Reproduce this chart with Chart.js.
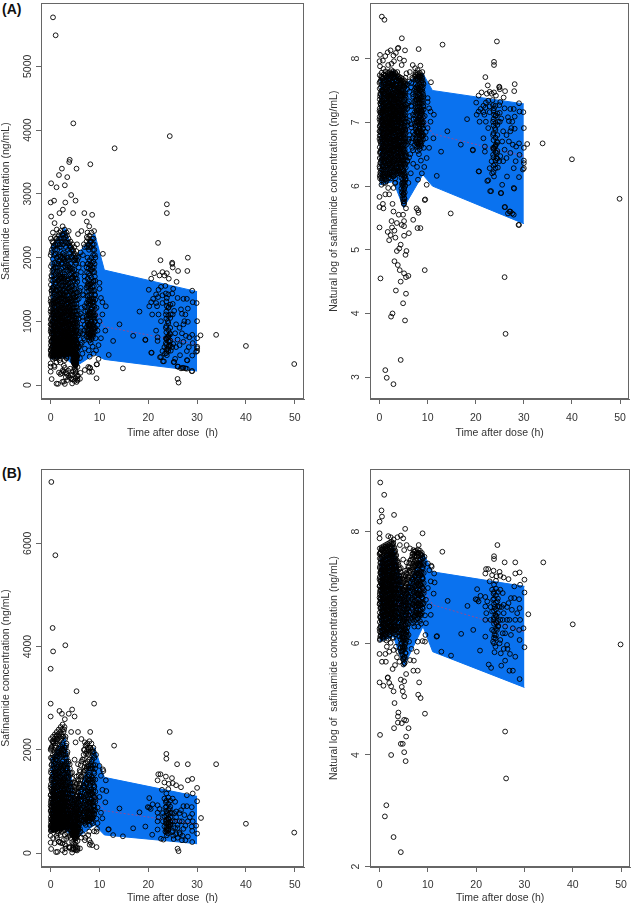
<!DOCTYPE html>
<html>
<head>
<meta charset="utf-8">
<script src="https://cdn.jsdelivr.net/npm/chart.js@4.4.0/dist/chart.umd.min.js"></script>
<style>
    body { margin: 0; background: #fff; width: 634px; height: 905px; position: relative; overflow: hidden; font-family: "Liberation Sans", Arial, sans-serif; }
    canvas { position: absolute; }
    .tag { position: absolute; font-weight: bold; font-size: 14px; color: #111; }
</style>
</head>
<body>
<div class="tag" style="left:2px;top:1px">(A)</div>
<div class="tag" style="left:2px;top:465px">(B)</div>
<canvas id="aLin" width="317" height="450" style="left:0;top:0"></canvas>
<canvas id="aLog" width="317" height="450" style="left:317px;top:0"></canvas>
<canvas id="bLin" width="317" height="455" style="left:0;top:450px"></canvas>
<canvas id="bLog" width="317" height="455" style="left:317px;top:450px"></canvas>
<script>
// tick labels
const timeTicks = [0, 10, 20, 30, 40, 50];
const linTicksA = [0, 1000, 2000, 3000, 4000, 5000];
const logTicksA = [3, 4, 5, 6, 7, 8];
const linTicksB = [0, 2000, 4000, 6000];
const logTicksB = [2, 4, 6, 8];

// prediction band nodes (h)
const bandTime = [0, 2.9, 5, 9, 11, 30];
// study A, ng/mL
const bandUpperLinA = [2157, 2469, 2001, 2380, 1804, 1466];
const bandLowerLinA = [410, 432, 288, 482, 403, 220];
const medianLinA = [1100, 1200, 900, 1200, 916, 640];
// study A, natural log
const bandUpperLogA = [7.66, 7.81, 7.60, 7.77, 7.50, 7.29];
const bandLowerLogA = [6.02, 6.07, 5.66, 6.18, 6.00, 5.41];
const medianLogA = [7.0, 7.1, 6.8, 7.1, 6.82, 6.47];
// study B, ng/mL
const bandUpperLinB = [1800, 2250, 990, 2040, 1465, 1097];
const bandLowerLinB = [415, 455, 265, 545, 350, 180];
const medianLinB = [1000, 1200, 550, 1100, 820, 560];
// study B, natural log
const bandUpperLogB = [7.5, 7.72, 6.9, 7.62, 7.28, 7.02];
const bandLowerLogB = [6.03, 6.12, 5.58, 6.30, 5.85, 5.21];
const medianLogB = [6.9, 7.1, 6.3, 7.0, 6.69, 6.21];

// observations [time (h), ln concentration]
const obsA = [
    [0.48,8.66],[1.02,8.61],[4.64,8.32],[13.1,8.22],[24.4,8.27],[8.13,8.15],[3.9,8.17],[23.8,7.95],[23.8,7.90],[22.0,7.71],
    [28.1,7.60],[28.0,7.49],[26.1,7.49],[24.9,7.56],[25.0,7.52],[33.9,6.67],[40.0,6.42],[49.9,5.80],[30.7,6.66],[14.8,5.57],
    [16.9,6.65],[19.4,6.56],[12.8,6.54],[11.9,6.16],[14.1,6.86],[10.7,7.63],[20.7,6.23],[26.0,4.57],[26.2,3.68],[28.9,5.39],
    [27.9,5.55],[27.0,5.60],[26.1,5.67],[28.0,5.96],[25.3,5.89],[23.0,5.92],
    [9.4,4.68],[9.4,5.78],[7.7,5.65],[8.0,5.62],[8.1,5.58],[8.5,5.34],[7.9,5.34],[6.1,5.26],[7.0,5.47],[4.9,5.55],
    [5.1,5.45],[5.1,5.37],[5.1,5.22],[5.5,5.65],[5.1,5.76],
    [0.0,5.35],[0.0,5.67],[0.0,5.83],[0.2,4.55],[0.7,5.72],[0.8,5.65],[1.2,5.87],[1.7,5.28],[2.0,5.15],[2.3,5.23],
    [2.5,5.45],[2.6,5.35],[2.7,5.72],[2.9,5.60],[3.1,5.30],[3.3,5.19],[3.1,4.82],[3.8,4.76],[3.6,4.98],[4.1,5.02],
    [4.2,4.68],[4.4,5.08],[3.4,4.36],[2.4,3.95],[2.7,4.0],[4.4,4.50],[4.9,4.16],[5.3,3.89],[5.5,4.31],[5.1,4.63],
    [5.5,4.57],[6.0,4.59],[5.4,4.92],[5.6,4.98],[4.4,3.27],[1.2,3.11],[1.5,2.99],[2.9,2.89],[4.6,5.39],[4.0,5.55],
    [2.9,5.97],[1.8,5.97],[3.3,6.05],[2.0,5.87],[1.2,6.05],[3.6,5.42],
    [0.1,8.06],[0.7,7.97],[1.2,8.04],[1.7,8.10],[2.3,8.13],[2.9,8.05],[3.4,8.09],[3.8,8.16],[4.2,8.0],[5.1,7.97],
    [5.3,8.13],[6.9,7.90],[7.4,7.85],[7.9,7.82],[8.9,7.79],[8.5,7.89],[0.0,7.96],[0.1,7.88],[0.8,7.84],[1.8,7.90],
    [2.5,7.92],[3.0,7.96],[4.6,7.90],[5.6,7.77],[6.3,7.79],
    [0.0,7.62],[0.1,7.41],[0.0,7.18],[0.1,6.95],[0.0,6.74],[0.1,6.52],[0.0,6.31],[0.1,6.12],[0.0,7.05],[0.0,6.86],
    [0.3,7.55],[0.4,7.33],[0.3,7.12],[0.4,6.88],[0.3,6.66],[0.4,6.45],[0.3,6.24],[0.5,7.71],[0.5,7.02],[0.6,6.58],
    [0.7,7.48],[0.8,7.26],[0.7,7.05],[0.8,6.83],[0.7,6.61],[0.8,6.38],[0.7,6.15],[0.9,7.66],[0.9,6.95],[1.0,6.72],
    [1.1,7.52],[1.2,7.30],[1.1,7.10],[1.2,6.90],[1.1,6.68],[1.2,6.47],[1.1,6.26],[1.3,7.74],[1.3,7.19],[1.4,6.55],
    [1.5,7.61],[1.6,7.40],[1.5,7.20],[1.6,6.98],[1.5,6.77],[1.6,6.56],[1.5,6.33],[1.7,7.08],[1.7,6.85],[1.8,6.12],
    [1.9,7.70],[2.0,7.47],[1.9,7.27],[2.0,7.06],[1.9,6.85],[2.0,6.63],[1.9,6.42],[2.1,6.22],[2.1,7.15],[2.2,6.92],
    [2.3,7.56],[2.4,7.35],[2.3,7.13],[2.4,6.91],[2.3,6.70],[2.4,6.49],[2.3,6.28],[2.5,7.76],[2.5,7.00],[2.6,6.60],
    [2.7,7.64],[2.8,7.42],[2.7,7.21],[2.8,6.99],[2.7,6.78],[2.8,6.56],[2.7,6.35],[2.9,6.15],[2.9,7.30],[3.0,6.88],
    [3.1,7.71],[3.2,7.50],[3.1,7.28],[3.2,7.06],[3.1,6.84],[3.2,6.63],[3.1,6.42],[3.3,6.22],[3.3,7.15],[3.4,6.72],
    [3.5,7.60],[3.6,7.38],[3.5,7.17],[3.6,6.95],[3.5,6.73],[3.6,6.52],[3.5,6.30],[3.7,7.79],[3.7,7.05],[3.8,6.62],
    [3.9,7.52],[4.0,7.30],[3.9,7.09],[4.0,6.87],[3.9,6.66],[4.0,6.44],[4.1,6.23],[4.1,7.68],[4.2,7.20],[4.2,6.78],
    [4.3,7.42],[4.4,7.00],[4.3,6.55],[4.4,6.34],[4.4,7.60],
    [0.2,7.30],[0.6,7.15],[1.0,7.38],[1.4,6.95],[1.8,7.32],[2.2,7.42],[2.6,7.25],[3.0,7.12],[3.4,7.40],[3.8,7.10],
    [0.2,6.80],[0.6,6.70],[1.0,6.55],[1.4,6.80],[1.8,6.60],[2.2,6.75],[2.6,6.90],[3.0,6.50],[3.4,6.90],[3.8,6.85],
    [4.2,6.60],[0.9,6.30],[2.0,6.35],[3.2,6.05],[0.4,6.02],
    [4.6,7.65],[4.8,7.45],[4.7,7.25],[4.9,7.05],[4.7,6.85],[4.9,6.65],[4.8,6.45],[5.0,6.25],[4.9,6.05],[5.0,5.88],
    [5.1,5.72],[5.2,7.55],[5.1,7.35],[5.3,7.15],[5.2,6.95],[5.3,6.75],[5.1,6.55],[5.3,6.35],[5.2,6.15],[5.1,5.95],
    [5.4,7.70],[5.5,7.28],[5.4,6.88],[5.5,6.48],[5.4,6.10],[4.6,7.00],[4.6,6.40],[5.0,7.58],[5.0,6.80],[5.2,5.80],
    [5.7,7.60],[5.9,7.30],[5.8,7.00],[6.0,6.70],[5.8,6.40],[6.2,7.48],[6.3,7.10],[6.2,6.80],[6.4,6.50],[6.6,7.62],
    [6.7,7.25],[6.6,6.92],[6.8,6.60],[6.5,6.20],[7.0,7.40],[7.1,7.05],[6.9,6.75],[7.0,6.35],[6.0,6.05],[6.8,7.70],
    [7.4,7.75],[7.6,7.55],[7.5,7.35],[7.7,7.15],[7.5,6.95],[7.7,6.75],[7.9,7.68],[8.0,7.45],[7.9,7.25],[8.1,7.05],
    [7.9,6.85],[8.1,6.65],[8.3,7.72],[8.4,7.50],[8.3,7.30],[8.5,7.10],[8.3,6.90],[8.5,6.70],[8.7,7.62],[8.8,7.40],
    [8.7,7.18],[8.9,6.98],[8.7,6.78],[9.0,7.55],[9.1,7.25],[9.0,6.90],[8.2,6.50],[8.6,6.40],[9.2,6.60],[7.8,6.30],
    [9.4,7.10],[9.6,6.85],[8.0,6.10],[8.8,6.20],[9.3,6.30],
    [10.0,7.32],[10.3,7.22],[10.6,7.17],[11.3,7.12],[10.6,7.01],[10.0,6.91],[9.6,6.75],[10.3,6.60],[9.8,6.44],[11.2,6.75],
    [9.8,6.02],[9.5,5.79],[10.0,7.38],
    [22.5,7.58],[24.9,7.55],[22.9,7.48],[23.3,7.45],[23.8,7.47],[24.2,7.42],[22.3,7.45],[21.2,7.47],[20.6,7.42],[25.8,7.39],
    [25.1,7.32],[20.1,7.31],[29.0,7.30],[29.9,7.16],[30.0,6.91],[18.2,7.05],[19.4,6.57],[20.6,6.23],[21.9,6.62],[21.9,6.54],
    [20.6,7.17],[22.0,7.23],[21.6,7.16],[20.2,7.12],[20.8,7.01],[22.1,7.01],[22.6,6.91],[21.6,6.75],[22.4,6.08],[22.6,6.09],
    [23.2,5.92],[23.4,6.20],[24.0,6.34],[23.8,6.15],[23.6,6.49],[23.8,6.60],[24.2,6.65],[24.4,6.70],[23.6,6.80],[24.0,6.91],
    [23.6,7.01],[23.8,7.12],[23.8,7.22],[23.6,7.27],[23.5,7.35],[25.0,7.01],[25.3,7.06],[25.7,6.86],[25.5,6.70],[26.0,6.57],
    [25.1,6.47],[25.7,6.39],[26.4,6.44],[27.2,6.52],[26.9,6.70],[27.7,6.65],[28.4,6.62],[29.0,6.67],[29.1,6.49],[28.3,6.39],
    [27.9,6.28],[29.0,6.14],[29.8,6.26],[30.0,6.36],[27.9,5.97],[26.5,6.15],[25.5,6.02],[25.2,5.89],[26.0,5.67],[26.7,5.57],
    [27.6,5.57],[27.2,5.60],[29.0,5.39],[27.4,6.91],[28.1,6.90],[27.6,7.01],[26.9,7.02],[28.1,7.09],[29.1,7.17],[30.0,6.60],
    [30.0,6.40],[30.0,6.28],[24.9,6.39],[24.3,6.44],[23.3,6.39],[22.9,6.28],[24.6,6.29],[24.9,7.27],[26.0,7.22],[27.2,7.21],
    [27.9,7.21],[26.7,7.08],[25.0,7.15],[26.4,6.80],[27.2,6.86],[24.4,6.52],[23.6,6.60],[24.0,6.62],[24.6,7.01],[24.2,7.11],
    [21.8,7.12],[22.9,7.16],[21.6,7.26],[21.0,7.21],[22.1,7.31],[22.9,7.25],[22.6,7.34]
];

// densely sampled columns of study A [time (h), ln concentrations]
const denseA = [
    [0.05, [7.74,7.53,7.36,7.22,7.09,6.93,6.79,6.61,6.44,6.28,6.16]],
    [0.15, [7.64,7.45,7.30,7.15,7.01,6.86,6.70,6.54,6.36,6.21]],
    [0.25, [7.66,7.44,7.27,7.15,6.97,6.84,6.70,6.53,6.37,6.19]],
    [0.35, [7.72,7.49,7.33,7.18,7.04,6.90,6.74,6.56,6.40,6.14]],
    [0.45, [7.78,7.59,7.40,7.24,7.08,6.92,6.76,6.59,6.41,6.26,6.09]],
    [0.55, [7.68,7.50,7.31,7.16,7.00,6.83,6.67,6.48,6.33,6.12]],
    [0.65, [7.69,7.51,7.34,7.19,7.03,6.89,6.72,6.50,6.31,6.18]],
    [0.75, [7.62,7.45,7.28,7.12,6.95,6.80,6.62,6.43,6.26]],
    [0.85, [7.75,7.56,7.41,7.21,7.11,6.97,6.80,6.64,6.46,6.22,6.05]],
    [0.95, [7.70,7.52,7.36,7.17,7.04,6.90,6.76,6.55,6.38,6.17]],
    [1.05, [7.63,7.46,7.31,7.17,7.00,6.86,6.73,6.58,6.40,6.13]],
    [1.15, [7.74,7.55,7.38,7.22,7.05,6.91,6.78,6.60,6.44,6.30,6.10]],
    [1.25, [7.80,7.60,7.43,7.25,7.07,6.94,6.77,6.62,6.36,6.20]],
    [1.35, [7.66,7.48,7.30,7.14,6.99,6.84,6.66,6.47,6.32,6.15]],
    [1.45, [7.70,7.52,7.34,7.18,7.03,6.88,6.69,6.51,6.42,6.24,6.08]],
    [1.55, [7.72,7.55,7.40,7.23,7.08,6.92,6.75,6.59,6.38,6.19]],
    [1.65, [7.76,7.57,7.45,7.26,7.12,6.96,6.82,6.65,6.47,6.29]],
    [1.75, [7.78,7.62,7.42,7.31,7.15,7.00,6.86,6.70,6.52,6.35,6.16]],
    [1.85, [7.68,7.49,7.37,7.21,7.05,6.91,6.74,6.57,6.39,6.19]],
    [1.95, [7.74,7.58,7.44,7.25,7.10,6.95,6.78,6.62,6.45,6.27]],
    [2.05, [7.79,7.61,7.42,7.28,7.13,6.98,6.81,6.67,6.50,6.33,6.14]],
    [2.15, [7.68,7.51,7.35,7.18,7.01,6.85,6.69,6.52,6.36,6.20]],
    [2.25, [7.72,7.55,7.39,7.22,7.06,6.89,6.73,6.56,6.41,6.25]],
    [2.35, [7.77,7.60,7.44,7.26,7.10,6.96,6.80,6.64,6.47,6.30,6.12]],
    [2.45, [7.82,7.63,7.47,7.30,7.16,7.02,6.85,6.68,6.52,6.37,6.18]],
    [2.55, [7.70,7.52,7.36,7.21,7.05,6.88,6.73,6.57,6.40,6.22]],
    [2.65, [7.74,7.58,7.41,7.27,7.09,6.94,6.79,6.61,6.45,6.29]],
    [2.75, [7.77,7.59,7.44,7.24,7.13,6.98,6.83,6.66,6.49,6.32,6.16]],
    [2.85, [7.80,7.62,7.46,7.32,7.18,7.03,6.87,6.70,6.54,6.38,6.21]],
    [2.95, [7.72,7.53,7.35,7.20,7.06,6.90,6.73,6.56,6.38,6.24]],
    [3.05, [7.75,7.57,7.39,7.24,7.10,6.93,6.77,6.60,6.43,6.27]],
    [3.15, [7.68,7.52,7.35,7.19,7.02,6.88,6.71,6.55,6.39,6.17]],
    [3.25, [7.78,7.60,7.44,7.29,7.14,6.99,6.82,6.66,6.48,6.33,6.12]],
    [3.35, [7.76,7.58,7.41,7.25,7.09,6.94,6.78,6.61,6.44,6.29]],
    [3.45, [7.71,7.54,7.36,7.20,7.05,6.90,6.74,6.58,6.40,6.24]],
    [3.55, [7.66,7.49,7.32,7.16,7.00,6.85,6.68,6.52,6.35,6.19]],
    [3.65, [7.74,7.58,7.42,7.25,7.11,6.95,6.79,6.63,6.46,6.28]],
    [3.75, [7.71,7.53,7.37,7.21,7.06,6.90,6.75,6.59,6.42,6.24]],
    [3.85, [7.69,7.50,7.33,7.18,7.02,6.86,6.71,6.55,6.37,6.20]],
    [3.95, [7.64,7.46,7.29,7.13,6.97,6.81,6.64,6.47,6.30]],
    [4.05, [7.72,7.55,7.38,7.22,7.07,6.91,6.75,6.57,6.41,6.25]],
    [4.15, [7.68,7.51,7.34,7.18,7.02,6.86,6.71,6.53,6.37,6.21]],
    [4.25, [7.66,7.47,7.31,7.16,6.99,6.83,6.68,6.50,6.33]],
    [4.35, [7.61,7.43,7.27,7.11,6.94,6.79,6.62,6.45,6.28]],
    [4.45, [7.70,7.51,7.35,7.19,7.03,6.87,6.70,6.52,6.36,6.18]],
    [4.55, [7.66,7.48,7.30,7.14,6.98,6.82,6.64,6.47,6.30,6.13,5.96]],
    [4.65, [7.62,7.43,7.26,7.10,6.93,6.76,6.58,6.41,6.22,6.04,5.90]],
    [4.75, [7.58,7.40,7.22,7.05,6.88,6.71,6.54,6.36,6.18,6.01,5.85]],
    [4.85, [7.68,7.50,7.32,7.14,6.97,6.80,6.62,6.45,6.27,6.10,5.93,5.80]],
    [4.95, [7.63,7.46,7.27,7.10,6.92,6.75,6.58,6.40,6.23,6.06,5.88,5.76]],
    [5.05, [7.60,7.42,7.23,7.06,6.88,6.71,6.53,6.36,6.19,6.02,5.86,5.72]],
    [5.15, [7.56,7.37,7.19,7.01,6.84,6.66,6.49,6.31,6.14,5.97,5.81]],
    [5.25, [7.65,7.46,7.28,7.11,6.92,6.74,6.57,6.40,6.21,6.06,5.90]],
    [5.35, [7.61,7.42,7.24,7.06,6.88,6.70,6.52,6.34,6.17,6.00]],
    [5.45, [7.58,7.39,7.20,7.01,6.83,6.64,6.46,6.29,6.12]],
    [5.75, [7.52,7.21,6.95,6.66,6.38]],
    [6.15, [7.64,7.33,7.02,6.74,6.45]],
    [6.55, [7.55,7.26,6.97,6.69]],
    [6.95, [7.68,7.44,7.12,6.85,6.56]],
    [7.35, [7.72,7.52,7.33,7.16,6.98,6.81,6.64]],
    [7.45, [7.68,7.48,7.29,7.11,6.93,6.76]],
    [7.55, [7.78,7.60,7.42,7.24,7.06,6.89,6.72]],
    [7.65, [7.74,7.55,7.37,7.20,7.02,6.85,6.69]],
    [7.75, [7.70,7.51,7.35,7.18,7.00,6.84,6.67]],
    [7.85, [7.66,7.47,7.30,7.13,6.95,6.79,6.62]],
    [7.95, [7.76,7.58,7.40,7.22,7.04,6.87,6.70,6.55]],
    [8.05, [7.72,7.54,7.36,7.18,7.00,6.83,6.66]],
    [8.15, [7.72,7.54,7.37,7.19,7.02,6.85,6.68]],
    [8.25, [7.68,7.50,7.32,7.14,6.97,6.80,6.62]],
    [8.35, [7.78,7.60,7.43,7.25,7.08,6.91,6.74,6.58]],
    [8.45, [7.74,7.56,7.38,7.21,7.04,6.87,6.70]],
    [8.55, [7.70,7.52,7.34,7.17,7.00,6.83,6.66]],
    [8.65, [7.66,7.48,7.30,7.13,6.96,6.79,6.63]],
    [8.75, [7.74,7.57,7.39,7.21,7.04,6.86,6.69]],
    [8.85, [7.70,7.52,7.35,7.17,7.00,6.82]],
    [8.95, [7.66,7.48,7.30,7.12,6.95,6.78]],
    [9.05, [7.62,7.44,7.26,7.08,6.90,6.73]],
    [9.15, [7.60,7.40,7.20,7.00,6.80]],
    [23.7, [7.18,7.05,6.95,6.83,6.72,6.58,6.45,6.32,6.22]],
    [24.1, [7.26,7.10,6.99,6.88,6.76,6.63,6.53,6.40,6.28]],
    [24.5, [7.14,6.96,6.80,6.68,6.55,6.43]]
];

const obsB = [
    [0.14,8.88],[0.96,8.66],[0.4,8.38],[0.5,8.27],[3.0,8.30],[0.0,8.18],[0.0,7.97],[0.0,7.88],[5.3,8.05],[8.9,7.97],
    [4.4,7.93],[4.9,7.88],[13.0,7.64],[24.4,7.76],[23.7,7.56],[23.7,7.51],[28.1,7.45],[25.9,7.45],[33.9,7.45],[40.0,6.34],
    [49.9,5.98],[30.8,6.52],[26.0,4.42],[26.2,3.58],[0.1,4.36],[0.0,5.30],[0.0,5.81],[0.8,5.24],[1.7,5.38],[1.3,5.67],
    [0.5,5.67],[2.4,4.0],[1.4,3.10],[1.1,2.90],[2.9,2.53],[4.4,2.26],[5.1,4.05],[5.4,3.89],[4.4,4.20],[4.8,4.20],
    [3.0,4.48],[3.8,4.58],[4.6,4.57],[5.1,4.63],[5.5,4.62],[6.0,4.48],[5.5,4.33],[3.1,4.93],[3.9,4.76],[3.8,4.69],
    [2.9,5.14],[4.8,5.14],[5.1,5.05],[4.6,5.22],[4.4,5.35],[5.1,5.32],[5.5,5.45],[2.7,5.54],[2.4,5.23],[2.0,5.29],
    [1.7,5.39],[9.4,4.74],[8.0,5.08],[8.5,5.02],[8.2,5.30],[7.9,5.51],[7.0,5.51],[7.1,5.69],[6.3,5.70],[7.7,5.85],
    [7.9,6.03],[8.9,6.04],[9.4,6.03],[6.6,5.90],[6.1,6.03],[2.0,5.85],[1.5,5.94],[1.2,5.81],[2.3,6.01],[2.9,5.88],
    [3.4,5.94],[3.6,5.75],[3.9,5.85],[4.1,5.67],[3.2,5.61],[5.7,6.12],[11.9,6.13],[12.8,5.85],[14.8,5.78],[14.1,6.76],
    [18.2,6.67],[19.4,6.24],[20.8,5.87],[10.7,7.39],[11.4,7.09],
    [1.8,7.92],[2.3,7.90],[2.9,7.86],[3.7,7.90],[4.2,7.76],[5.6,7.76],[5.1,7.67],[6.3,7.70],[7.0,7.67],[8.1,7.76],
    [7.7,7.56],[0.5,7.67],[0.1,7.61],[1.2,7.73],
    [22.05,7.33],[22.5,7.33],[21.9,7.25],[23.6,7.30],[23.3,7.22],[24.85,7.28],[25.0,7.21],[25.7,7.18],[26.7,7.15],[28.1,7.25],
    [29.0,7.27],[30.0,7.14],[24.2,7.20],[22.8,7.11],[29.1,7.05],[27.9,7.02],[30.0,6.91],[20.2,6.78],[20.5,6.75],[19.9,6.79],
    [21.9,6.83],[21.9,6.66],[22.3,6.75],[23.3,6.96],[23.6,6.89],[23.5,6.78],[23.8,6.65],[23.3,6.57],[24.0,6.51],[23.6,6.42],
    [24.2,6.36],[23.3,6.24],[23.8,6.15],[23.5,6.03],[24.0,5.94],[23.8,5.84],[25.0,6.96],[25.5,6.90],[25.3,6.65],[25.7,6.54],
    [25.0,6.42],[26.0,6.30],[25.5,6.18],[25.0,6.06],[26.4,5.97],[25.1,5.82],[26.7,6.72],[27.4,6.60],[26.9,6.42],[27.6,6.27],
    [27.2,6.15],[28.1,6.42],[28.5,6.54],[29.0,6.63],[29.1,6.42],[28.9,6.24],[29.8,6.27],[30.0,5.93],[29.0,6.06],[28.1,5.76],
    [27.0,5.81],[26.0,5.69],[25.2,5.60],[26.9,5.51],[27.6,5.51],[29.0,5.36],[22.6,5.62],[23.1,5.56],[16.9,6.17],[21.9,6.12],
    [21.9,6.42],[22.1,6.54],[20.2,6.97],[20.9,6.85],[27.9,6.81],[27.2,6.81],[28.9,6.79],[24.4,6.75],[24.85,6.65],[25.7,6.69],
    [26.4,6.65],[23.0,6.65],[24.2,6.48],[24.6,6.31],[26.0,6.18],[25.5,6.42],[26.4,6.42],[24.0,6.09],[24.85,6.00],[25.7,5.90],
    [26.5,5.90],[24.3,6.24],[23.0,6.42],
    [9.3,7.55],[10.0,7.43],[10.3,7.31],[11.3,7.25],[10.6,7.11],[10.0,6.99],[11.2,6.89],[9.6,6.78],[10.3,6.66],[10.6,6.51],
    [9.6,6.36],[9.5,6.15],[11.8,6.12],[10.8,7.37],
    [0.0,7.60],[0.1,7.38],[0.0,7.15],[0.1,6.92],[0.0,6.70],[0.1,6.48],[0.0,6.26],[0.1,6.08],[0.0,7.02],[0.0,6.82],
    [0.3,7.52],[0.4,7.30],[0.3,7.08],[0.4,6.86],[0.3,6.64],[0.4,6.42],[0.3,6.20],[0.5,7.68],[0.5,6.98],[0.6,6.55],
    [0.7,7.45],[0.8,7.23],[0.7,7.01],[0.8,6.79],[0.7,6.57],[0.8,6.35],[0.7,6.12],[0.9,7.62],[0.9,6.92],[1.0,6.68],
    [1.1,7.50],[1.2,7.28],[1.1,7.06],[1.2,6.85],[1.1,6.63],[1.2,6.42],[1.1,6.21],[1.3,7.70],[1.3,7.15],[1.4,6.50],
    [1.5,7.58],[1.6,7.36],[1.5,7.15],[1.6,6.93],[1.5,6.72],[1.6,6.50],[1.5,6.28],[1.7,7.04],[1.7,6.81],[1.8,6.08],
    [1.9,7.65],[2.0,7.43],[1.9,7.22],[2.0,7.00],[1.9,6.78],[2.0,6.57],[1.9,6.36],[2.1,6.16],[2.1,7.12],[2.2,6.88],
    [2.3,7.60],[2.4,7.38],[2.3,7.17],[2.4,6.95],[2.3,6.73],[2.4,6.52],[2.3,6.30],[2.5,7.72],[2.5,7.02],[2.6,6.62],
    [2.7,7.55],[2.8,7.33],[2.7,7.12],[2.8,6.90],[2.7,6.68],[2.8,6.46],[2.7,6.25],[2.9,6.10],[2.9,7.25],[3.0,6.80],
    [3.1,7.62],[3.2,7.40],[3.1,7.18],[3.2,6.96],[3.1,6.74],[3.2,6.52],[3.1,6.30],[3.3,7.52],[3.3,7.05],[3.4,6.62],
    [3.5,7.35],[3.6,7.10],[3.5,6.85],[3.6,6.55],[3.4,6.20],
    [0.2,7.25],[0.6,7.12],[1.0,7.35],[1.4,6.95],[1.8,7.30],[2.2,7.45],[2.6,7.22],[3.0,7.05],[0.2,6.75],[0.6,6.65],
    [1.0,6.50],[1.4,6.78],[1.8,6.58],[2.2,6.72],[2.6,6.85],[3.0,6.45],[0.9,6.25],[2.0,6.32],
    [3.9,7.45],[4.1,7.20],[4.0,6.95],[4.2,6.70],[4.1,6.45],[4.3,6.25],[4.4,7.35],[4.5,7.05],[4.4,6.80],[4.6,6.55],
    [4.5,6.30],[4.7,6.10],[4.8,5.92],[4.9,7.50],[5.0,7.22],[4.9,6.95],[5.0,6.68],[5.1,6.42],[5.0,6.18],[5.1,5.95],
    [5.0,5.75],[5.2,5.65],[5.3,7.30],[5.4,7.00],[5.3,6.75],[5.5,6.50],[5.4,6.25],[5.3,6.02],[5.4,5.82],[5.6,7.45],
    [5.8,7.15],[5.7,6.88],[5.9,6.62],[5.8,6.35],[6.0,6.15],[6.2,7.30],[6.3,7.00],[6.2,6.72],[6.4,6.45],[6.5,7.50],
    [4.6,6.85],[5.2,6.88],[5.6,6.62],[4.8,6.40],[5.6,6.15],
    [6.8,7.60],[7.0,7.38],[6.9,7.15],[7.1,6.92],[6.9,6.70],[7.1,6.48],[7.3,7.65],[7.4,7.42],[7.3,7.20],[7.5,6.98],
    [7.3,6.76],[7.5,6.55],[7.7,7.55],[7.8,7.32],[7.7,7.10],[7.9,6.88],[7.7,6.66],[7.9,6.45],[8.1,7.62],[8.2,7.40],
    [8.1,7.18],[8.3,6.95],[8.1,6.72],[8.3,6.52],[8.5,7.50],[8.6,7.28],[8.5,7.05],[8.7,6.82],[8.5,6.60],[8.8,7.58],
    [8.9,7.15],[9.0,6.70],[9.1,7.40],[8.0,6.30],[8.6,6.35],[9.2,6.95],[7.2,6.30],[9.4,6.50]
];

// densely sampled columns of study B [time (h), ln concentrations]
const denseB = [
    [0.05, [7.70,7.52,7.35,7.19,7.03,6.88,6.72,6.55,6.38,6.21,6.06]],
    [0.15, [7.62,7.44,7.27,7.11,6.95,6.79,6.63,6.46,6.29,6.12]],
    [0.25, [7.63,7.45,7.28,7.12,6.96,6.80,6.64,6.47,6.30,6.14]],
    [0.35, [7.68,7.50,7.33,7.17,7.01,6.85,6.68,6.52,6.35,6.18]],
    [0.45, [7.72,7.55,7.39,7.22,7.06,6.90,6.73,6.57,6.40,6.23]],
    [0.55, [7.60,7.43,7.26,7.10,6.94,6.78,6.61,6.45,6.28,6.11]],
    [0.65, [7.66,7.48,7.31,7.15,6.99,6.83,6.66,6.50,6.33,6.16]],
    [0.75, [7.70,7.53,7.36,7.20,7.04,6.88,6.71,6.55,6.38,6.21]],
    [0.85, [7.74,7.57,7.40,7.24,7.08,6.92,6.75,6.59,6.42,6.25,6.08]],
    [0.95, [7.64,7.46,7.29,7.13,6.97,6.81,6.64,6.48,6.31,6.14]],
    [1.05, [7.68,7.50,7.33,7.17,7.01,6.85,6.68,6.52,6.35,6.18]],
    [1.15, [7.72,7.55,7.38,7.22,7.06,6.90,6.73,6.57,6.40,6.23]],
    [1.25, [7.76,7.59,7.42,7.26,7.10,6.94,6.77,6.61,6.44,6.27]],
    [1.35, [7.66,7.49,7.32,7.15,6.99,6.83,6.66,6.50,6.33,6.16]],
    [1.45, [7.70,7.53,7.36,7.19,7.03,6.87,6.70,6.54,6.37,6.20,6.05]],
    [1.55, [7.74,7.57,7.40,7.24,7.08,6.92,6.75,6.59,6.42,6.25]],
    [1.65, [7.78,7.61,7.44,7.28,7.12,6.96,6.79,6.63,6.46,6.29]],
    [1.75, [7.68,7.51,7.34,7.17,7.01,6.85,6.68,6.52,6.35,6.18]],
    [1.85, [7.72,7.55,7.38,7.21,7.05,6.89,6.72,6.56,6.39,6.22]],
    [1.95, [7.76,7.59,7.42,7.26,7.10,6.94,6.77,6.61,6.44,6.27]],
    [2.05, [7.80,7.63,7.46,7.30,7.14,6.98,6.81,6.65,6.48,6.31,6.14]],
    [2.15, [7.70,7.53,7.36,7.19,7.03,6.87,6.70,6.54,6.37,6.20]],
    [2.25, [7.74,7.57,7.40,7.23,7.07,6.91,6.74,6.58,6.41,6.24]],
    [2.35, [7.78,7.61,7.44,7.28,7.12,6.96,6.79,6.63,6.46,6.29]],
    [2.45, [7.82,7.65,7.48,7.32,7.16,7.00,6.83,6.67,6.50,6.33]],
    [2.55, [7.72,7.55,7.38,7.21,7.05,6.89,6.72,6.56,6.39,6.22]],
    [2.65, [7.76,7.59,7.42,7.25,7.09,6.93,6.76,6.60,6.43,6.26,6.10]],
    [2.75, [7.78,7.60,7.43,7.27,7.11,6.95,6.78,6.62,6.45,6.28]],
    [2.85, [7.80,7.62,7.45,7.29,7.13,6.97,6.80,6.64,6.47,6.30]],
    [2.95, [7.70,7.52,7.35,7.19,7.03,6.87,6.70,6.54,6.37,6.20]],
    [3.05, [7.72,7.55,7.38,7.22,7.06,6.90,6.73,6.57,6.40,6.23]],
    [3.15, [7.64,7.46,7.29,7.13,6.97,6.81,6.64,6.48,6.31]],
    [3.25, [7.66,7.48,7.31,7.15,6.99,6.83,6.66,6.50,6.33,6.16]],
    [3.35, [7.56,7.38,7.21,7.05,6.89,6.73,6.56,6.40,6.23]],
    [3.45, [7.58,7.40,7.23,7.07,6.91,6.75,6.58,6.42,6.25]],
    [3.55, [7.46,7.28,7.11,6.95,6.79,6.62,6.45,6.28]],
    [3.65, [7.48,7.30,7.13,6.97,6.81,6.64,6.47,6.30]],
    [3.95, [7.40,7.22,7.05,6.88,6.71,6.54,6.37,6.20]],
    [4.05, [7.32,7.14,6.97,6.80,6.63,6.46,6.29,6.12]],
    [4.15, [7.34,7.16,6.98,6.81,6.64,6.47,6.30,6.13]],
    [4.35, [7.28,7.10,6.92,6.75,6.58,6.41,6.24,6.07,5.92]],
    [4.45, [7.20,7.02,6.84,6.67,6.50,6.33,6.16,5.99,5.86]],
    [4.55, [7.22,7.04,6.86,6.69,6.52,6.35,6.18,6.01,5.85]],
    [4.75, [7.16,6.98,6.80,6.63,6.46,6.29,6.12,5.95,5.79]],
    [4.85, [7.08,6.90,6.72,6.55,6.38,6.21,6.04,5.87,5.72]],
    [4.95, [7.10,6.92,6.74,6.57,6.40,6.23,6.06,5.89,5.72,5.62]],
    [5.15, [7.14,6.96,6.78,6.61,6.44,6.27,6.10,5.93,5.76,5.64]],
    [5.25, [7.12,6.94,6.76,6.59,6.42,6.25,6.08,5.91,5.74]],
    [5.35, [7.20,7.02,6.84,6.67,6.50,6.33,6.16,5.99,5.83]],
    [5.55, [7.26,7.08,6.90,6.73,6.56,6.39,6.22,6.05]],
    [5.65, [7.24,7.06,6.88,6.71,6.54,6.37,6.20]],
    [5.75, [7.32,7.14,6.96,6.79,6.62,6.45,6.28]],
    [5.95, [7.38,7.20,7.02,6.85,6.68,6.51,6.34]],
    [6.05, [7.36,7.18,7.00,6.83,6.66,6.49]],
    [6.15, [7.44,7.26,7.08,6.91,6.74,6.57]],
    [6.35, [7.48,7.30,7.12,6.95,6.78]],
    [6.75, [7.55,7.36,7.18,7.00,6.82,6.64,6.46]],
    [6.85, [7.50,7.32,7.14,6.96,6.78,6.60,6.42]],
    [6.95, [7.60,7.42,7.24,7.06,6.88,6.70,6.52,6.36]],
    [7.15, [7.64,7.46,7.28,7.10,6.92,6.74,6.56,6.40]],
    [7.25, [7.56,7.38,7.20,7.02,6.84,6.66,6.48]],
    [7.35, [7.58,7.40,7.22,7.04,6.86,6.68,6.50]],
    [7.55, [7.66,7.48,7.30,7.12,6.94,6.76,6.58,6.42]],
    [7.65, [7.62,7.44,7.26,7.08,6.90,6.72,6.54]],
    [7.75, [7.60,7.42,7.24,7.06,6.88,6.70,6.52]],
    [7.95, [7.68,7.50,7.32,7.14,6.96,6.78,6.60,6.44]],
    [8.05, [7.58,7.40,7.22,7.04,6.86,6.68,6.50]],
    [8.15, [7.62,7.44,7.26,7.08,6.90,6.72,6.54]],
    [8.35, [7.66,7.48,7.30,7.12,6.94,6.76,6.58,6.40]],
    [8.45, [7.60,7.42,7.24,7.06,6.88,6.70,6.52]],
    [8.55, [7.58,7.40,7.22,7.04,6.86,6.68,6.50]],
    [8.75, [7.62,7.44,7.26,7.08,6.90,6.72,6.54]],
    [8.85, [7.54,7.36,7.18,7.00,6.82,6.64]],
    [8.95, [7.52,7.34,7.16,6.98,6.80,6.62]],
    [9.15, [7.44,7.26,7.08,6.90,6.72]],
    [23.7, [7.05,6.92,6.80,6.70,6.58,6.46,6.35,6.22,6.10,6.00]],
    [24.1, [7.12,6.98,6.86,6.73,6.61,6.50,6.38,6.26,6.14]],
    [24.5, [6.92,6.80,6.66,6.54,6.40,6.30]]
];

const BLUE = '#0a72ef';
const AXIS = '#666';
const TEXT = '#333';
const FONT = { family: '"Liberation Sans", Arial, sans-serif', size: 10.5 };

const allObsA = obsA.concat(denseA.flatMap(c => c[1].map(v => [c[0], v])));
const allObsB = obsB.concat(denseB.flatMap(c => c[1].map(v => [c[0], v])));

const framePlugin = {
    id: 'frame',
    afterDraw(chart) {
        const { ctx, chartArea: a } = chart;
        ctx.save();
        ctx.strokeStyle = AXIS;
        ctx.lineWidth = 1;
        ctx.strokeRect(Math.round(a.left) + 0.5, Math.round(a.top) + 0.5,
            Math.round(a.right - a.left) - 1, Math.round(a.bottom - a.top) - 1);
        ctx.restore();
    }
};

// y tick labels written along the axis, as R does
const yLabelPlugin = {
    id: 'yLabels',
    afterDraw(chart, args, opts) {
        const { ctx } = chart;
        const scale = chart.scales.y;
        ctx.save();
        ctx.font = FONT.size + 'px ' + FONT.family;
        ctx.fillStyle = TEXT;
        ctx.textAlign = 'center';
        ctx.textBaseline = 'middle';
        scale.ticks.forEach(t => {
            const y = scale.getPixelForValue(t.value);
            ctx.save();
            ctx.translate(opts.x, y);
            ctx.rotate(-Math.PI / 2);
            ctx.fillText(String(t.value), 0, 0);
            ctx.restore();
        });
        ctx.restore();
    }
};

function toXY(times, values) {
    return times.map((t, i) => ({ x: t, y: values[i] }));
}

function makePanel(id, p) {
    const points = p.obs.map(o => ({ x: o[0], y: p.useExp ? Math.exp(o[1]) : o[1] }));
    new Chart(document.getElementById(id), {
        type: 'scatter',
        data: {
            datasets: [
                {
                    data: points, order: 1,
                    pointRadius: 2.4, pointHoverRadius: 2.4,
                    borderColor: '#000', backgroundColor: 'rgba(0,0,0,0)', borderWidth: 0.9
                },
                {
                    type: 'line', data: toXY(bandTime, p.median), order: 2,
                    borderColor: '#b8407a', borderWidth: 0.8, borderDash: [2, 2], pointRadius: 0, fill: false
                },
                {
                    type: 'line', data: toXY(bandTime, p.upper), order: 3,
                    borderColor: BLUE, borderWidth: 1, pointRadius: 0, fill: '+1', backgroundColor: BLUE
                },
                {
                    type: 'line', data: toXY(bandTime, p.lower), order: 4,
                    borderColor: BLUE, borderWidth: 1, pointRadius: 0, fill: false
                }
            ]
        },
        options: {
            responsive: false,
            animation: false,
            events: [],
            layout: { padding: { top: p.padTop, right: p.padRight, left: 0, bottom: 0 } },
            plugins: { legend: { display: false }, tooltip: { enabled: false }, yLabels: { x: p.yLabelX } },
            scales: {
                x: {
                    type: 'linear', min: -1.98, max: 51.9,
                    afterFit: s => { s.height = p.xH; },
                    afterBuildTicks: s => { s.ticks = timeTicks.map(v => ({ value: v })); },
                    grid: { drawOnChartArea: false, drawTicks: true, tickLength: 5, color: AXIS },
                    border: { display: true, color: AXIS },
                    ticks: { font: FONT, color: TEXT, padding: p.xTickPad, maxRotation: 0, autoSkip: false, callback: v => String(v) },
                    title: { display: true, text: p.xTitle, font: FONT, color: TEXT, padding: { top: 0, bottom: p.xTitlePad } }
                },
                y: {
                    type: 'linear', min: p.yMin, max: p.yMax,
                    afterFit: s => { s.width = p.yW; },
                    afterBuildTicks: s => { s.ticks = p.yTicks.map(v => ({ value: v })); },
                    grid: { drawOnChartArea: false, drawTicks: true, tickLength: 5, color: AXIS },
                    border: { display: true, color: AXIS },
                    ticks: { display: false },
                    title: { display: true, text: p.yTitle, font: FONT, color: TEXT, padding: { top: p.yTitlePad, bottom: 0 } }
                }
            }
        },
        plugins: [framePlugin, yLabelPlugin]
    });
}

document.addEventListener('DOMContentLoaded', function() {
    makePanel('aLin', {
        obs: allObsA, useExp: true, upper: bandUpperLinA, lower: bandLowerLinA, median: medianLinA,
        yMin: -218, yMax: 5988, yTicks: linTicksA, yW: 41, yLabelX: 28, yTitlePad: 0,
        padTop: 1, padRight: 13, xH: 51, xTickPad: 8, xTitlePad: 10.5,
        xTitle: 'Time after dose  (h)', yTitle: 'Safinamide concentration (ng/mL)'
    });
    makePanel('aLog', {
        obs: allObsA, useExp: false, upper: bandUpperLogA, lower: bandLowerLogA, median: medianLogA,
        yMin: 2.657, yMax: 8.869, yTicks: logTicksA, yW: 53, yLabelX: 39, yTitlePad: 10.4,
        padTop: 1, padRight: 1, xH: 51, xTickPad: 8, xTitlePad: 10.5,
        xTitle: 'Time after dose (h)', yTitle: 'Natural log of safinamide concentration (ng/mL)'
    });
    makePanel('bLin', {
        obs: allObsB, useExp: true, upper: bandUpperLinB, lower: bandLowerLinB, median: medianLinB,
        yMin: -271, yMax: 7438, yTicks: linTicksB, yW: 41, yLabelX: 28, yTitlePad: 0,
        padTop: 19, padRight: 13, xH: 38, xTickPad: 7, xTitlePad: 0.5,
        xTitle: 'Time after dose  (h)', yTitle: 'Safinamide concentration (ng/mL)'
    });
    makePanel('bLog', {
        obs: allObsB, useExp: false, upper: bandUpperLogB, lower: bandLowerLogB, median: medianLogB,
        yMin: 1.994, yMax: 9.122, yTicks: logTicksB, yW: 53, yLabelX: 39, yTitlePad: 10.4,
        padTop: 19, padRight: 1, xH: 38, xTickPad: 7, xTitlePad: 0.5,
        xTitle: 'Time after dose (h)', yTitle: 'Natural log of  safinamide concentration (ng/mL)'
    });
});
</script>
</body>
</html>
